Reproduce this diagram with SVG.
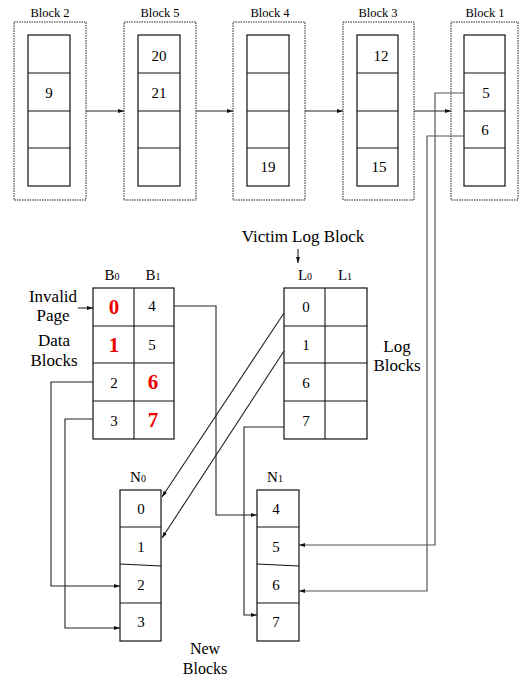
<svg xmlns="http://www.w3.org/2000/svg" width="520" height="678" viewBox="0 0 520 678">
<style>
.t{font-family:"Liberation Serif","Times New Roman",serif;fill:#000}
.bl{font-size:12.5px;text-anchor:middle}
.n{font-size:15px;text-anchor:middle}
.lb{font-size:17px;text-anchor:middle}
.hd{font-size:15px;text-anchor:middle}
.red{font-size:21px;font-weight:bold;fill:#e00;text-anchor:middle}
.sub{font-size:10px}
.outer{fill:#fff;stroke:#222;stroke-width:1;stroke-dasharray:1.5 1}
.cell{fill:#fff;stroke:#111;stroke-width:1.2}
.ln{stroke:#111;stroke-width:1.1;fill:none}
.c{fill:none;stroke:#222;stroke-width:1.1}
.g{fill:none;stroke:#555;stroke-width:1.2}
</style>
<defs>
<marker id="ah" viewBox="0 0 6 4" refX="6" refY="2" markerWidth="6" markerHeight="4" markerUnits="userSpaceOnUse" orient="auto">
<path d="M0,0 L6,2 L0,4 z" fill="#111"/>
</marker>
</defs>

<g id="block2">
<text class="t bl" x="50" y="17">Block 2</text>
<rect class="outer" x="14" y="22" width="72" height="178"/>
<rect class="cell" x="28" y="35" width="42" height="151"/>
<path class="ln" d="M28,73H70M28,111H70M28,148H70"/>
<text class="t n" x="49" y="98">9</text>
</g>
<g id="block5">
<text class="t bl" x="160" y="17">Block 5</text>
<rect class="outer" x="124" y="22" width="72" height="178"/>
<rect class="cell" x="138" y="35" width="42" height="151"/>
<path class="ln" d="M138,73H180M138,111H180M138,148H180"/>
<text class="t n" x="159" y="61">20</text>
<text class="t n" x="159" y="98">21</text>
</g>
<g id="block4">
<text class="t bl" x="270" y="17">Block 4</text>
<rect class="outer" x="233" y="22" width="72" height="178"/>
<rect class="cell" x="247" y="35" width="42" height="151"/>
<path class="ln" d="M247,73H289M247,111H289M247,148H289"/>
<text class="t n" x="268" y="172">19</text>
</g>
<g id="block3">
<text class="t bl" x="378" y="17">Block 3</text>
<rect class="outer" x="343" y="22" width="71" height="178"/>
<rect class="cell" x="357" y="35" width="41" height="151"/>
<path class="ln" d="M357,73H398M357,111H398M357,148H398"/>
<text class="t n" x="381" y="61">12</text>
<text class="t n" x="379" y="172">15</text>
</g>
<g id="block1">
<text class="t bl" x="485" y="17">Block 1</text>
<rect class="outer" x="451" y="22" width="67" height="178"/>
<rect class="cell" x="464" y="35" width="41" height="151"/>
<path class="ln" d="M464,73H505M464,111H505M464,148H505"/>
<text class="t n" x="486" y="98">5</text>
<text class="t n" x="485" y="135">6</text>
</g>

<g id="dataBlocks">
<text class="t hd" x="112" y="280">B<tspan class="sub">0</tspan></text>
<text class="t hd" x="153" y="280">B<tspan class="sub">1</tspan></text>
<rect class="cell" x="93" y="288" width="81" height="151"/>
<path class="ln" d="M134,288V439M93,326H174M93,363H174M93,401H174"/>
<text class="t red" x="114" y="314">0</text>
<text class="t red" x="114" y="352">1</text>
<text class="t n" x="114" y="388">2</text>
<text class="t n" x="114" y="426">3</text>
<text class="t n" x="152" y="311">4</text>
<text class="t n" x="152" y="350">5</text>
<text class="t red" x="153" y="389">6</text>
<text class="t red" x="153" y="427">7</text>
</g>
<g id="labels">
<text class="t lb" x="53" y="302">Invalid</text>
<text class="t lb" x="53" y="321">Page</text>
<text class="t lb" x="54" y="346">Data</text>
<text class="t lb" x="54" y="366">Blocks</text>
<text class="t lb" x="303" y="242">Victim Log Block</text>
<text class="t lb" x="397" y="352">Log</text>
<text class="t lb" x="397" y="371">Blocks</text>
<text class="t lb" x="205" y="654" style="font-size:16px">New</text>
<text class="t lb" x="205" y="674" style="font-size:16px">Blocks</text>
</g>
<g id="logBlocks">
<text class="t hd" x="305" y="280">L<tspan class="sub">0</tspan></text>
<text class="t hd" x="345" y="280">L<tspan class="sub">1</tspan></text>
<rect class="cell" x="284" y="288" width="83" height="151"/>
<path class="ln" d="M325,288V439M284,326H367M284,363H367M284,401H367"/>
<text class="t n" x="306" y="312">0</text>
<text class="t n" x="306" y="350">1</text>
<text class="t n" x="306" y="388">6</text>
<text class="t n" x="306" y="426">7</text>
</g>
<g id="newBlockN0">
<text class="t hd" x="138" y="482">N<tspan class="sub">0</tspan></text>
<rect class="cell" x="120" y="490" width="41" height="151"/>
<path class="ln" d="M120,527H161M120,564L161,566M120,603H161"/>
<text class="t n" x="141" y="514">0</text>
<text class="t n" x="141" y="552">1</text>
<text class="t n" x="141" y="590">2</text>
<text class="t n" x="141" y="627">3</text>
</g>
<g id="newBlockN1">
<text class="t hd" x="275" y="482">N<tspan class="sub">1</tspan></text>
<rect class="cell" x="257" y="490" width="42" height="151"/>
<path class="ln" d="M257,527H299M257,564L299,566M257,603H299"/>
<text class="t n" x="276" y="514">4</text>
<text class="t n" x="276" y="552">5</text>
<text class="t n" x="276" y="590">6</text>
<text class="t n" x="276" y="627">7</text>
</g>

<g id="connectors">
<line class="c" x1="86" y1="111" x2="124" y2="111" marker-end="url(#ah)"/>
<line class="c" x1="196" y1="111" x2="233" y2="111" marker-end="url(#ah)"/>
<line class="c" x1="305" y1="111" x2="343" y2="111" marker-end="url(#ah)"/>
<line class="c" x1="414" y1="111" x2="451" y2="111" marker-end="url(#ah)"/>
<polyline class="g" points="464,93 435,93 435,545 299,545" marker-end="url(#ah)"/>
<polyline class="g" points="464,136 427,136 427,591 299,591" marker-end="url(#ah)"/>
<line class="c" x1="78" y1="308" x2="93" y2="308" marker-end="url(#ah)"/>
<line class="c" x1="298" y1="249" x2="298" y2="263" marker-end="url(#ah)"/>
<polyline class="c" points="174,306 216,306 216,515 257,515" marker-end="url(#ah)"/>
<polyline class="c" points="93,382 51,382 51,586 120,586" marker-end="url(#ah)"/>
<polyline class="c" points="93,419 65,419 65,628 120,628" marker-end="url(#ah)"/>
<line class="c" x1="284" y1="313" x2="162" y2="497" marker-end="url(#ah)"/>
<line class="c" x1="284" y1="351" x2="162" y2="538" marker-end="url(#ah)"/>
<polyline class="c" points="284,427 244,427 244,615 257,615" marker-end="url(#ah)"/>
</g>
</svg>
